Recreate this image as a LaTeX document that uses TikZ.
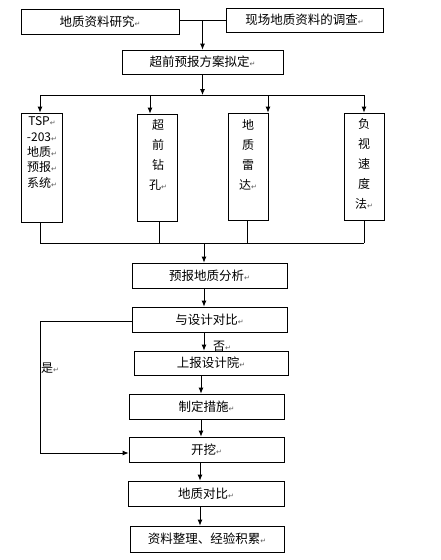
\documentclass[tikz,border=0pt]{standalone}
\usepackage{fontspec}
\newfontfamily\cjk{Noto Sans CJK SC}
\newfontfamily\symf{DejaVu Sans}
\usetikzlibrary{arrows.meta}
\newcommand{\rt}{{\symf\fontsize{7}{7}\selectfont\textcolor{black!65}{↵}}}
\tikzset{
  box/.style={draw, line width=0.8pt, inner sep=0pt, font=\cjk\fontsize{12.5}{14}\selectfont},
  vtext/.style={inner sep=0pt, align=center, font=\cjk\fontsize{12}{20}\selectfont},
  ln/.style={line width=0.8pt},
  arr/.style={line width=0.8pt, -{Latex[length=6pt,width=5pt]}},
  lab/.style={inner sep=0pt, font=\cjk\fontsize{12}{14}\selectfont}
}
\begin{document}
\begin{tikzpicture}[x=1pt,y=-1pt]
\useasboundingbox (0,0) rectangle (441,560);
% top boxes
\node[box, minimum width=158pt, minimum height=25pt] (b1) at (100,21.5) {地质资料研究\rt};
\node[box, minimum width=157pt, minimum height=24pt] (b2) at (304.5,20) {现场地质资料的调查\rt};
\node[box, minimum width=161pt, minimum height=24pt] (b3) at (202.5,62) {超前预报方案拟定\rt};
% vertical boxes
\node[box, minimum width=41pt, minimum height=109pt] (tsp) at (41.5,167.5) {};
\node[box, minimum width=40pt, minimum height=107pt] (zq) at (157,167.5) {};
\node[box, minimum width=40pt, minimum height=107pt] (ld) at (248,166.5) {};
\node[box, minimum width=40pt, minimum height=107pt] (fs) at (364,166.5) {};
\node[vtext, font=\cjk\fontsize{12}{15.3}\selectfont] (tspt) at (42,152.5) {TSP\rt\\-203\rt\\地质\rt\\预报\rt\\系统\rt};
\node[vtext] (zqt) at (158,155) {超\\前\\钻\\孔\rt};
\node[vtext] (ldt) at (248,154.5) {地\\质\\雷\\达\rt};
\node[vtext] (fst) at (364,164) {负\\视\\速\\度\\法\rt};
% lower boxes
\node[box, minimum width=155pt, minimum height=25pt] (fx) at (209.5,275.5) {预报地质分析\rt};
\node[box, minimum width=155pt, minimum height=25pt] (db) at (209.5,319.5) {与设计对比\rt};
\node[box, minimum width=154pt, minimum height=24pt] (sb) at (211,363) {上报设计院\rt};
\node[box, minimum width=155pt, minimum height=25pt] (zd) at (206.5,406.5) {制定措施\rt};
\node[box, minimum width=155pt, minimum height=25pt] (kw) at (206.5,449.5) {开挖\rt};
\node[box, minimum width=156pt, minimum height=25pt] (dz) at (206,493.5) {地质对比\rt};
\node[box, minimum width=154pt, minimum height=26pt] (zl) at (207,539) {资料整理、经验积累\rt};
% labels
\node[lab] (no) at (222,346) {否\rt};
\node[lab] (yes) at (50,368) {是\rt};
% top connectors
\coordinate (j1) at (202.5,20);
\draw[ln] (b1.east |- j1) -- (b2.west);
\draw[arr] (j1) -- (j1 |- b3.north);
\coordinate (s1) at (202.5,95);
\draw[arr] (b3.south) -- (s1);
\coordinate (a1) at (40,95);
\coordinate (a2) at (150,95);
\coordinate (a3) at (268,95);
\coordinate (a4) at (364,95);
\draw[ln] (a1) -- (a4);
\draw[arr] (a1) -- (a1 |- tsp.north);
\draw[arr] (a2) -- (a2 |- zq.north);
\draw[arr] (a3) -- (a3 |- ld.north);
\draw[arr] (a4) -- (a4 |- fs.north);
% bottom bus
\coordinate (c1) at (40,243);
\coordinate (c2) at (159,243);
\coordinate (c3) at (247,243);
\coordinate (c4) at (364,243);
\draw[ln] (c1 |- tsp.south) -- (c1);
\draw[ln] (c2 |- zq.south) -- (c2);
\draw[ln] (c3 |- ld.south) -- (c3);
\draw[ln] (c4 |- fs.south) -- (c4);
\draw[ln] (c1) -- (c4);
\coordinate (m) at (204,243);
\draw[arr] (m) -- (m |- fx.north);
\draw[arr] (m |- fx.south) -- (m |- db.north);
\draw[arr] (m |- db.south) -- (m |- sb.north);
\coordinate (n1) at (201,0);
\draw[arr] (n1 |- sb.south) -- (n1 |- zd.north);
\draw[arr] (n1 |- zd.south) -- (n1 |- kw.north);
\coordinate (n2) at (200,0);
\draw[arr] (n2 |- kw.south) -- (n2 |- dz.north);
\draw[arr] (n2 |- dz.south) -- (n2 |- zl.north);
% yes loop
\coordinate (y1) at (40,321);
\coordinate (y2) at (40,453);
\draw[arr] (db.west |- y1) -- (y1) -- (y2) -- (kw.west |- y2);
\end{tikzpicture}
\end{document}
